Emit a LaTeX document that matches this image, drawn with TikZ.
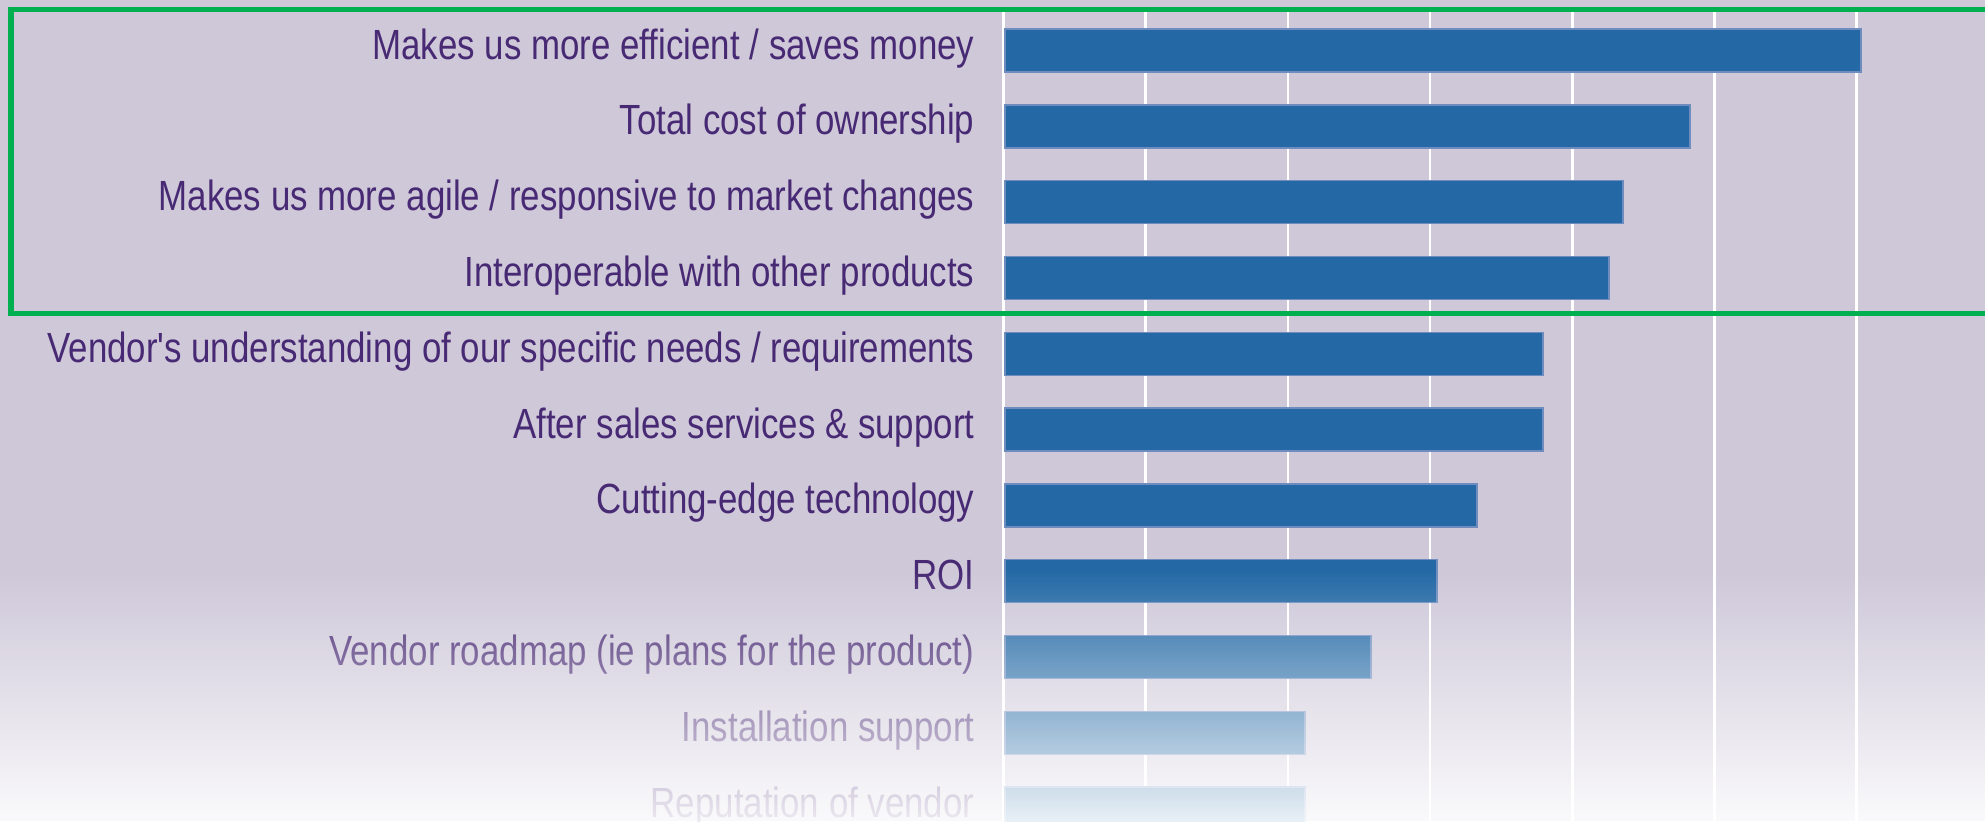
\documentclass[tikz,border=0pt]{standalone}
\usepackage{fontspec}
\setmainfont{Liberation Sans}
\usetikzlibrary{fadings}

\definecolor{chartbg}{RGB}{206,200,217}
\definecolor{barblue}{RGB}{36,105,165}
\definecolor{baredge}{RGB}{110,140,190}
\definecolor{labelpurple}{RGB}{72,42,116}
\definecolor{framegreen}{RGB}{0,176,80}

\tikzfading[name=fadebottom, top color=transparent!100, bottom color=transparent!5]

\tikzset{
	factor/.style = {anchor=base east, text=labelpurple, font=\fontsize{12}{14}\selectfont,
		xscale=0.826, transform shape, inner sep=0pt},
	bar/.style = {fill=barblue, draw=baredge, line width=0.4pt},
	grid line/.style = {white, line width=0.7pt}
}

\begin{document}
\begin{tikzpicture}[x=0.01cm, y=-0.01cm]

	% Canvas

	\useasboundingbox (0,0) rectangle (1985,821);
	\clip (0,0) rectangle (1985,821);
	\fill [chartbg] (0,0) rectangle (1985,821);

	% Vertical grid

	\foreach \g in {0,...,6}
		\draw [grid line] ({1003.5+142.2*\g},9) -- ({1003.5+142.2*\g},821);

	% Bars and labels

	\foreach \lbl/\len [count=\i from 0] in {
		{Makes us more efficient / saves money}/1861,
		{Total cost of ownership}/1690,
		{Makes us more agile / responsive to market changes}/1623,
		{Interoperable with other products}/1609,
		{Vendor\textquotesingle s understanding of our specific needs / requirements}/1543,
		{After sales services \& support}/1543,
		{Cutting-edge technology}/1477,
		{ROI}/1437,
		{Vendor roadmap (ie plans for the product)}/1371,
		{Installation support}/1305,
		{Reputation of vendor}/1305}
	{
		\fill [bar] (1005,{29+75.8*\i}) rectangle (\len,{72+75.8*\i});
		\node [factor] (f\i) at (975,{59+75.8*\i}) {\lbl};
	}

	% Fade to white

	\fill [white, path fading=fadebottom] (-10,570) rectangle (1995,835);

	% Highlight frame

	\draw [framegreen, line width=0.05cm] (11,9.5) rectangle (2000,313);

\end{tikzpicture}
\end{document}
